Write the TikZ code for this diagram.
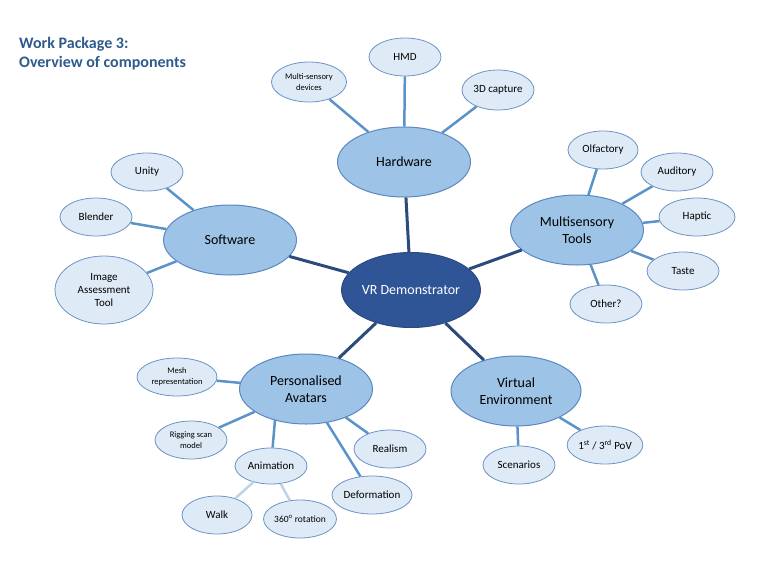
\documentclass[tikz,border=0pt]{standalone}
\usepackage{fontspec}
\setmainfont{Carlito}
\usetikzlibrary{shapes.geometric}
\definecolor{titleBlue}{HTML}{2E5B8C}
\definecolor{hubFill}{HTML}{2F5597}
\definecolor{hubLine}{HTML}{2A4A80}
\definecolor{mainFill}{HTML}{9DC3E6}
\definecolor{mainLine}{HTML}{5A88C0}
\definecolor{leafFill}{HTML}{DEEBF7}
\definecolor{leafLine}{HTML}{6C93C4}
\definecolor{linkDark}{HTML}{2B4B7C}
\definecolor{linkMid}{HTML}{5B92C8}
\definecolor{linkLight}{HTML}{BCD3EA}
\tikzset{
  hubNode/.style={ellipse, draw=hubLine, fill=hubFill, line width=1pt, text=white, inner sep=0pt,
    minimum width=130, minimum height=75, font=\fontsize{14}{16}\selectfont},
  mainNode/.style={ellipse, draw=mainLine, fill=mainFill, line width=1pt, inner sep=0pt, align=center,
    minimum width=133, minimum height=70, font=\fontsize{14}{17}\selectfont},
  leafNode/.style={ellipse, draw=leafLine, fill=leafFill, line width=0.8pt, inner sep=0pt, align=center,
    minimum width=72, minimum height=38, font=\fontsize{11}{13}\selectfont},
  smallText/.style={font=\fontsize{8.5}{11}\selectfont},
  titleText/.style={anchor=base west, text=titleBlue, inner sep=0pt, font=\fontsize{16}{19}\selectfont\bfseries},
  hubLink/.style={draw=linkDark, line width=3pt},
  mainLink/.style={draw=linkMid, line width=2.5pt},
  subLink/.style={draw=linkLight, line width=2.5pt}
}
\begin{document}
\begin{tikzpicture}[x=1pt,y=-1pt]
\useasboundingbox (0,0) rectangle (768,568);
\node[titleText] (title1) at (19,48) {Work Package 3:};
\node[titleText] (title2) at (19,67) {Overview of components};

% centre and branches
\node[hubNode] (vr) at (411,290) {VR Demonstrator};
\node[mainNode] (hw) at (404,162) {Hardware};
\node[mainNode] (mst) at (577,230) {Multisensory\\Tools};
\node[mainNode] (sw) at (230,240) {Software};
\node[mainNode] (pa) at (306,389) {Personalised\\Avatars};
\node[mainNode, minimum width=130] (ve) at (516,391) {Virtual\\Environment};

% hardware
\node[leafNode] (hmd) at (405,57) {HMD};
\node[leafNode, smallText, minimum width=75, minimum height=40] (msd) at (309,82) {Multi-sensory\\devices};
\node[leafNode, minimum height=40] (cap) at (498,90) {3D capture};

% multisensory tools
\node[leafNode, minimum width=70] (olf) at (603,150) {Olfactory};
\node[leafNode] (aud) at (677,172) {Auditory};
\node[leafNode, minimum width=76] (hap) at (697,217) {Haptic};
\node[leafNode] (tas) at (683,271) {Taste};
\node[leafNode] (oth) at (606,304) {Other?};

% software
\node[leafNode] (uni) at (147,172) {Unity};
\node[leafNode] (ble) at (96,217) {Blender};
\node[leafNode, minimum width=98, minimum height=68] (iat) at (104,290) {Image\\Assessment\\Tool};

% avatars
\node[leafNode, smallText, minimum width=80] (mesh) at (177,377) {Mesh\\representation};
\node[leafNode, smallText] (rig) at (191,440) {Rigging scan\\model};
\node[leafNode, minimum height=36] (ani) at (271,466) {Animation};
\node[leafNode, minimum width=70] (walk) at (217,515) {Walk};
\node[leafNode, font=\fontsize{9.5}{11}\selectfont, minimum width=70] (rot) at (300,519) {360\textsuperscript{o} rotation};
\node[leafNode] (def) at (372,495) {Deformation};
\node[leafNode] (rea) at (390,449) {Realism};
\coordinate (paFoot) at (275,420);

% virtual environment
\node[leafNode] (sce) at (519,465) {Scenarios};
\node[leafNode] (pov) at (605,445) {1\textsuperscript{st} / 3\textsuperscript{rd} PoV};

% links
\foreach \m in {hw,mst,sw,pa,ve}
  \draw[hubLink] (vr) -- (\m);
\foreach \l in {hmd,msd,cap}
  \draw[mainLink] (hw) -- (\l);
\foreach \l in {olf,aud,hap,tas,oth}
  \draw[mainLink] (mst) -- (\l);
\foreach \l in {uni,ble,iat}
  \draw[mainLink] (sw) -- (\l);
\foreach \l in {mesh,rig,def,rea}
  \draw[mainLink] (pa) -- (\l);
\draw[mainLink] (paFoot) -- (ani);
\foreach \l in {sce,pov}
  \draw[mainLink] (ve) -- (\l);
\draw[subLink] (ani) -- (walk);
\draw[subLink] (ani) -- (rot);
\end{tikzpicture}
\end{document}
